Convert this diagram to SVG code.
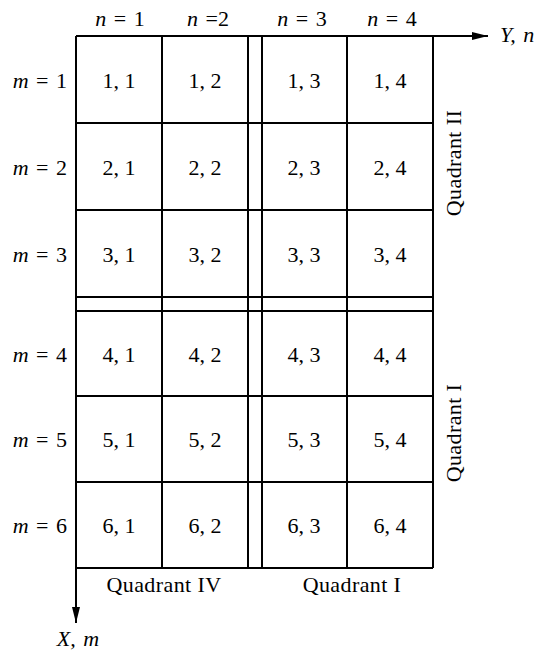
<svg xmlns="http://www.w3.org/2000/svg" width="538" height="655" viewBox="0 0 538 655">
<style>
text{font-family:"Liberation Serif","Times New Roman",serif;font-size:22px;fill:#000}
.c{text-anchor:middle}
.r{text-anchor:end}
.i{font-style:italic}
.lab{word-spacing:2px}
.q{letter-spacing:0.4px}
.ln{stroke:#000;stroke-width:2;fill:none}
</style>
<defs>
<marker id="ah" viewBox="0 0 16 10" refX="16" refY="5" markerWidth="16" markerHeight="10" markerUnits="userSpaceOnUse" orient="auto">
<path d="M0,1 L16,5 L0,9 Z" fill="#000"/>
</marker>
</defs>
<rect width="538" height="655" fill="#fff"/>
<g id="connectors">
<line class="ln" x1="76" y1="36" x2="488" y2="36" marker-end="url(#ah)"/>
<line class="ln" x1="76" y1="36" x2="76" y2="623" marker-end="url(#ah)"/>
</g>
<g id="grid">
<line class="ln" x1="162" y1="36" x2="162" y2="568"/>
<line class="ln" x1="248" y1="36" x2="248" y2="568"/>
<line class="ln" x1="262" y1="36" x2="262" y2="568"/>
<line class="ln" x1="347" y1="36" x2="347" y2="568"/>
<line class="ln" x1="433" y1="36" x2="433" y2="568"/>
<line class="ln" x1="76" y1="123" x2="433" y2="123"/>
<line class="ln" x1="76" y1="210" x2="433" y2="210"/>
<line class="ln" x1="76" y1="297" x2="433" y2="297"/>
<line class="ln" x1="76" y1="311" x2="433" y2="311"/>
<line class="ln" x1="76" y1="396" x2="433" y2="396"/>
<line class="ln" x1="76" y1="482" x2="433" y2="482"/>
<line class="ln" x1="76" y1="568" x2="433" y2="568"/>
</g>
<g id="col-labels">
<text class="c lab" x="120" y="26"><tspan class="i">n</tspan> = 1</text>
<text class="c lab" x="208" y="26"><tspan class="i">n</tspan> =2</text>
<text class="c lab" x="302" y="26"><tspan class="i">n</tspan> = 3</text>
<text class="c lab" x="392" y="26"><tspan class="i">n</tspan> = 4</text>
</g>
<g id="row-labels">
<text class="r lab" x="67" y="88"><tspan class="i">m</tspan> = 1</text>
<text class="r lab" x="67" y="175"><tspan class="i">m</tspan> = 2</text>
<text class="r lab" x="67" y="262"><tspan class="i">m</tspan> = 3</text>
<text class="r lab" x="67" y="362"><tspan class="i">m</tspan> = 4</text>
<text class="r lab" x="67" y="447"><tspan class="i">m</tspan> = 5</text>
<text class="r lab" x="67" y="533"><tspan class="i">m</tspan> = 6</text>
</g>
<g id="cells">
<text class="c" x="119" y="88">1, 1</text>
<text class="c" x="205" y="88">1, 2</text>
<text class="c" x="304" y="88">1, 3</text>
<text class="c" x="390" y="88">1, 4</text>
<text class="c" x="119" y="175">2, 1</text>
<text class="c" x="205" y="175">2, 2</text>
<text class="c" x="304" y="175">2, 3</text>
<text class="c" x="390" y="175">2, 4</text>
<text class="c" x="119" y="262">3, 1</text>
<text class="c" x="205" y="262">3, 2</text>
<text class="c" x="304" y="262">3, 3</text>
<text class="c" x="390" y="262">3, 4</text>
<text class="c" x="119" y="362">4, 1</text>
<text class="c" x="205" y="362">4, 2</text>
<text class="c" x="304" y="362">4, 3</text>
<text class="c" x="390" y="362">4, 4</text>
<text class="c" x="119" y="447">5, 1</text>
<text class="c" x="205" y="447">5, 2</text>
<text class="c" x="304" y="447">5, 3</text>
<text class="c" x="390" y="447">5, 4</text>
<text class="c" x="119" y="533">6, 1</text>
<text class="c" x="205" y="533">6, 2</text>
<text class="c" x="304" y="533">6, 3</text>
<text class="c" x="390" y="533">6, 4</text>
</g>
<g id="axis-labels">
<text x="500" y="42" class="i lab">Y, n</text>
<text class="c i lab" x="78" y="646">X, m</text>
</g>
<g id="quadrant-labels">
<text class="c q" x="164" y="592">Quadrant IV</text>
<text class="c q" x="352" y="592">Quadrant I</text>
<text class="c q" transform="translate(461,163) rotate(-90)">Quadrant II</text>
<text class="c q" transform="translate(461,433) rotate(-90)">Quadrant I</text>
</g>
</svg>
